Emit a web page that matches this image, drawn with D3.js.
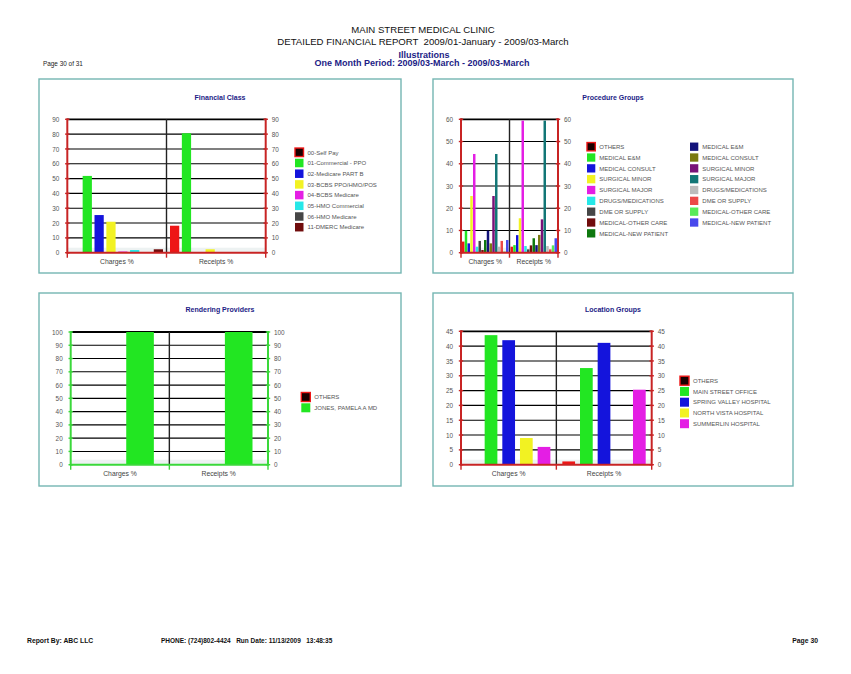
<!DOCTYPE html>
<html>
<head>
<meta charset="utf-8">
<script src="https://cdn.jsdelivr.net/npm/d3@7"></script>
<style>
  body { margin: 0; background: #fff; }
  svg { display: block; font-family: "Liberation Sans", Arial, sans-serif; }
  .pre { white-space: pre; }
</style>
</head>
<body>
<div id="page"></div>
<script>
// ---- data ----
const CATEGORIES = ["Charges %", "Receipts %"];

const FIN_SERIES = ["00-Self Pay", "01-Commercial - PPO", "02-Medicare PART B", "03-BCBS PPO/HMO/POS",
                    "04-BCBS Medicare", "05-HMO Commercial", "06-HMO Medicare", "11-DMERC Medicare"];
const FIN_CHARGES = [0, 51.8, 25.4, 20.9, 0.8, 1.8, 0, 2.3];
const FIN_RECEIPTS = [18.2, 80.6, 0, 2.3, 0, 0, 0, 0];
const FIN_TICKS = [0, 10, 20, 30, 40, 50, 60, 70, 80, 90];

const PROC_SERIES = ["OTHERS", "MEDICAL E&M", "MEDICAL CONSULT", "SURGICAL MINOR", "SURGICAL MAJOR",
                     "DRUGS/MEDICATIONS", "DME OR SUPPLY", "MEDICAL-OTHER CARE", "MEDICAL-NEW PATIENT",
                     "MEDICAL E&M", "MEDICAL CONSULT", "SURGICAL MINOR", "SURGICAL MAJOR",
                     "DRUGS/MEDICATIONS", "DME OR SUPPLY", "MEDICAL-OTHER CARE", "MEDICAL-NEW PATIENT"];
const PROC_CHARGES = [5, 9.9, 4.2, 25.5, 44.4, 2.7, 5.3, 1.2, 5.7, 9.9, 4.2, 25.5, 44.4, 2.7, 5.3, 0.5, 5.7];
const PROC_RECEIPTS = [2.7, 3.4, 7.9, 15.5, 59.4, 3, 1.5, 3.3, 6.5, 3.4, 8, 15, 59.4, 3, 1.5, 3.3, 6.5];
const PROC_TICKS = [0, 10, 20, 30, 40, 50, 60];

const REND_SERIES = ["OTHERS", "JONES, PAMELA A MD"];
const REND_CHARGES = [0, 100];
const REND_RECEIPTS = [0, 100];
const REND_TICKS = [0, 10, 20, 30, 40, 50, 60, 70, 80, 90, 100];

const LOC_SERIES = ["OTHERS", "MAIN STREET OFFICE", "SPRING VALLEY HOSPITAL", "NORTH VISTA HOSPITAL", "SUMMERLIN HOSPITAL"];
const LOC_CHARGES = [0, 43.7, 42, 9, 6];
const LOC_RECEIPTS = [1.1, 32.6, 41.1, 0, 25.3];
const LOC_TICKS = [0, 5, 10, 15, 20, 25, 30, 35, 40, 45];

// chart library style palette
const PALETTE = ["#ee1616", "#22e622", "#1414dc", "#f2f222", "#e41ee4", "#26e8e8", "#464646", "#700c0c",
                 "#0e780e", "#12127a", "#7a7a12", "#781278", "#127676", "#bcbcbc", "#ec4848", "#58ea58", "#4848ec"];

const W = 851, H = 674;
const NAVY = "#1c1c86";
const svg = d3.select("#page").append("svg").attr("width", W).attr("height", H);

// ---- page header ----
svg.append("text").attr("x", 423).attr("y", 32.5).attr("text-anchor", "middle")
   .attr("font-size", "9.6px").attr("fill", "#111").text("MAIN STREET MEDICAL CLINIC");
svg.append("text").attr("class", "pre").attr("x", 423).attr("y", 44.5).attr("text-anchor", "middle")
   .attr("font-size", "9.6px").attr("fill", "#111")
   .text("DETAILED FINANCIAL REPORT  2009/01-January - 2009/03-March");
svg.append("text").attr("x", 424).attr("y", 57.5).attr("text-anchor", "middle")
   .attr("font-size", "9px").attr("font-weight", "bold").attr("fill", NAVY).text("Illustrations");
svg.append("text").attr("x", 422).attr("y", 66).attr("text-anchor", "middle")
   .attr("font-size", "9px").attr("font-weight", "bold").attr("fill", NAVY)
   .text("One Month Period: 2009/03-March - 2009/03-March");
svg.append("text").attr("x", 43).attr("y", 65.5)
   .attr("font-size", "6.4px").attr("fill", "#222").text("Page 30 of 31");

// ---- footer ----
svg.append("text").attr("x", 27).attr("y", 642.5).attr("font-size", "6.8px")
   .attr("font-weight", "bold").attr("fill", "#111").text("Report By: ABC LLC");
svg.append("text").attr("class", "pre").attr("x", 161).attr("y", 642.5).attr("font-size", "6.5px")
   .attr("font-weight", "bold").attr("fill", "#111")
   .text("PHONE: (724)802-4424   Run Date: 11/13/2009   13:48:35");
svg.append("text").attr("x", 818).attr("y", 642.5).attr("text-anchor", "end").attr("font-size", "6.8px")
   .attr("font-weight", "bold").attr("fill", "#111").text("Page 30");

// draws one framed grouped bar chart
function drawChart(cfg) {
  const g = svg.append("g");
  const p = cfg.plot;

  g.append("rect")
    .attr("x", cfg.panel[0]).attr("y", cfg.panel[1])
    .attr("width", cfg.panel[2]).attr("height", cfg.panel[3])
    .attr("fill", "#fff").attr("stroke", "#74b6b2").attr("stroke-width", 1.4);

  g.append("text")
    .attr("x", cfg.panel[0] + cfg.panel[2] / 2).attr("y", cfg.titleY)
    .attr("text-anchor", "middle").attr("font-size", "7px").attr("font-weight", "bold")
    .attr("fill", NAVY).text(cfg.title);

  const X0 = d3.scaleBand().domain(CATEGORIES).range([p.left, p.right]);
  const Y = d3.scaleLinear().domain([0, d3.max(cfg.ticks)]).range([p.bottom, p.top]);
  const idx = d3.range(cfg.series.length);
  const X1 = d3.scaleBand().domain(idx)
               .range([cfg.off, X0.bandwidth() - cfg.off])
               .paddingInner(cfg.pad);

  // faint floor band
  g.append("rect").attr("x", p.left).attr("y", p.bottom - 5)
    .attr("width", p.right - p.left).attr("height", 5).attr("fill", "#edf2f2");

  // horizontal grid
  g.selectAll(".grid").data(cfg.ticks.filter(t => t > 0)).enter()
    .append("line")
      .attr("x1", p.left).attr("x2", p.right)
      .attr("y1", d => Y(d)).attr("y2", d => Y(d))
      .attr("stroke", "#000")
      .attr("stroke-width", d => d === d3.max(cfg.ticks) ? 1.8 : 1.1);

  // category divider
  g.append("line")
    .attr("x1", X0(CATEGORIES[1])).attr("x2", X0(CATEGORIES[1]))
    .attr("y1", p.top).attr("y2", p.bottom)
    .attr("stroke", "#222").attr("stroke-width", 1.4);

  // bars
  const values = [cfg.charges, cfg.receipts];
  const groups = g.selectAll(".cat").data(CATEGORIES).enter()
    .append("g").attr("transform", c => "translate(" + X0(c) + ",0)");
  groups.selectAll("rect")
    .data((c, ci) => values[ci].map((v, i) => ({ i: i, v: v })))
    .enter().append("rect")
      .attr("x", d => X1(d.i))
      .attr("width", X1.bandwidth())
      .attr("y", d => Y(d.v))
      .attr("height", d => p.bottom - Y(d.v))
      .attr("fill", d => PALETTE[d.i]);

  // axis labels through d3 axes
  const lab = sel => sel.call(s => s.select(".domain").remove())
                        .call(s => s.selectAll("text").attr("fill", "#555"))
                        .attr("font-family", null).attr("font-size", "6.4px");
  g.append("g").attr("transform", "translate(" + p.left + ",0)")
    .call(d3.axisLeft(Y).tickValues(cfg.ticks).tickSize(0).tickPadding(8)).call(lab);
  g.append("g").attr("transform", "translate(" + p.right + ",0)")
    .call(d3.axisRight(Y).tickValues(cfg.ticks).tickSize(0).tickPadding(6)).call(lab);
  g.append("g").attr("transform", "translate(0," + p.bottom + ")")
    .call(d3.axisBottom(X0).tickSize(0).tickPadding(6.5)).call(lab)
    .call(s => s.selectAll("text").attr("font-size", "6.8px").attr("fill", "#444"));

  // coloured axis frame
  const ac = cfg.axisColor;
  [p.left, p.right].forEach(x => {
    g.append("line").attr("x1", x).attr("x2", x).attr("y1", p.top - 1).attr("y2", p.bottom + 1)
      .attr("stroke", ac).attr("stroke-width", 2);
    g.selectAll(null).data(cfg.ticks).enter().append("line")
      .attr("x1", x - 2.2).attr("x2", x + 2.2)
      .attr("y1", d => Y(d)).attr("y2", d => Y(d))
      .attr("stroke", ac).attr("stroke-width", 1.4);
  });
  g.append("line").attr("x1", p.left).attr("x2", p.right).attr("y1", p.bottom).attr("y2", p.bottom)
    .attr("stroke", ac).attr("stroke-width", 2);
  g.selectAll(null).data([X0(CATEGORIES[0]), X0(CATEGORIES[1]), p.right]).enter().append("line")
    .attr("x1", d => d).attr("x2", d => d).attr("y1", p.bottom).attr("y2", p.bottom + 5)
    .attr("stroke", ac).attr("stroke-width", 1.4);

  // legend
  const L = cfg.legend;
  cfg.series.forEach((name, i) => {
    const col = i < L.perCol ? 0 : 1;
    const row = i < L.perCol ? i : i - L.perCol;
    const x = L.x[col], cy = L.y + row * L.pitch;
    g.append("rect")
      .attr("x", x).attr("y", cy - L.size / 2)
      .attr("width", L.size).attr("height", L.size)
      .attr("fill", i === 0 ? "#1a0000" : PALETTE[i])
      .attr("stroke", i === 0 ? PALETTE[0] : "none")
      .attr("stroke-width", 1.4);
    g.append("text")
      .attr("x", x + L.size + 4).attr("y", cy + 2.2)
      .attr("font-size", "6px").attr("fill", "#555")
      .text(name);
  });
}

drawChart({
  title: "Financial Class", panel: [39, 79, 362, 194], titleY: 99.5,
  plot: { left: 67.3, right: 265.7, top: 119.3, bottom: 252.7 },
  ticks: FIN_TICKS, series: FIN_SERIES, charges: FIN_CHARGES, receipts: FIN_RECEIPTS,
  axisColor: "#c82424", off: 3.5, pad: 0.22,
  legend: { x: [295], y: 152.3, pitch: 10.7, size: 8.5, perCol: 99 }
});

drawChart({
  title: "Procedure Groups", panel: [433, 79, 360, 194], titleY: 99.5,
  plot: { left: 461, right: 558, top: 119.3, bottom: 252.7 },
  ticks: PROC_TICKS, series: PROC_SERIES, charges: PROC_CHARGES, receipts: PROC_RECEIPTS,
  axisColor: "#c82424", off: 1, pad: 0.1,
  legend: { x: [587, 690], y: 146.7, pitch: 10.83, size: 8.3, perCol: 9 }
});

drawChart({
  title: "Rendering Providers", panel: [39, 293, 362, 193], titleY: 311.5,
  plot: { left: 70.7, right: 268, top: 332, bottom: 464.7 },
  ticks: REND_TICKS, series: REND_SERIES, charges: REND_CHARGES, receipts: REND_RECEIPTS,
  axisColor: "#3ad83a", off: 15.5, pad: 0.31,
  legend: { x: [301.3], y: 397, pitch: 10.8, size: 9, perCol: 99 }
});

drawChart({
  title: "Location Groups", panel: [433, 293, 360, 193], titleY: 311.5,
  plot: { left: 461, right: 651.7, top: 331.3, bottom: 464.7 },
  ticks: LOC_TICKS, series: LOC_SERIES, charges: LOC_CHARGES, receipts: LOC_RECEIPTS,
  axisColor: "#c82424", off: 6, pad: 0.28,
  legend: { x: [680], y: 380.7, pitch: 10.75, size: 9, perCol: 99 }
});
</script>
</body>
</html>
